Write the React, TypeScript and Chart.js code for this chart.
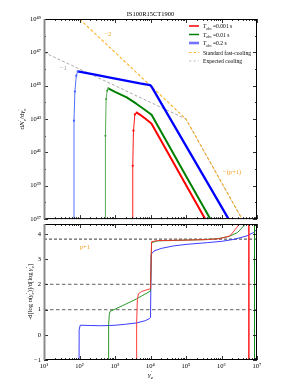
import React, { useEffect, useRef } from "react";
import { Chart, registerables } from "chart.js";
Chart.register(...registerables);

const SERIF = "'Liberation Serif', 'DejaVu Serif', serif";

const TITLE = "IS100R15CT1900";
const X_TICK_EXP = [1, 2, 3, 4, 5, 6, 7];
const TOP_Y_TICK_EXP = [37, 39, 41, 43, 45, 47, 49];
const TOP_Y_DECADES = [38, 40, 42, 44, 46, 48];
const BOTTOM_Y_TICKS = [-1, 0, 1, 2, 3, 4];
const LEGEND_T_VALUES = ["0.001", "0.01", "0.2"];
const LEGEND_OTHER = ["Standard fast-cooling", "Expected cooling"];

// ---- top panel: log10(gamma'_e) and log10(dN/dgamma) ----
const RED_RISE_LG = [3.49, 3.5, 3.52, 3.56, 3.61];
const RED_RISE_LN = [34, 40.2, 42.3, 43.28, 43.38];
const RED_LG = [3.61, 3.7, 3.85, 4.0, 4.03, 5.0, 5.5, 6.0];
const RED_LN = [43.38, 43.27, 43.03, 42.78, 42.72, 39.05, 37.16, 35.27];

const GREEN_RISE_LG = [2.72, 2.73, 2.75, 2.78, 2.81];
const GREEN_RISE_LN = [34, 42.0, 44.2, 44.7, 44.84];
const GREEN_LG = [2.81, 3.0, 3.33, 3.6, 3.8, 4.0, 4.03, 5.0, 5.7, 6.0];
const GREEN_LN = [44.84, 44.63, 44.3, 43.92, 43.62, 43.3, 43.26, 39.59, 36.95, 35.8];

const BLUE_RISE_LG = [1.835, 1.845, 1.87, 1.91, 1.95];
const BLUE_RISE_LN = [34, 42.9, 44.65, 45.6, 45.86];
const BLUE_LG = [1.95, 2.4, 2.86, 3.3, 3.7, 3.99, 4.03, 4.5, 5.0, 5.5, 6.0, 6.5];
const BLUE_LN = [45.86, 45.68, 45.49, 45.31, 45.14, 45.04, 44.94, 43.22, 41.39, 39.56, 37.73, 35.9];

const FAST_LG = [1.8, 5.0, 7.0];
const FAST_LN = [49.4, 43.0, 35.4];
const EXPECTED_LG = [1.0, 5.0, 7.0];
const EXPECTED_LN = [47.0, 43.0, 35.4];

// ---- bottom panel: log10(gamma'_e) and local slope ----
const RED_S_LG = [3.605, 3.61, 3.63, 3.66, 3.75, 3.9, 4.0, 4.03, 4.2, 5.0, 5.6, 5.96, 6.24, 6.43, 6.52, 6.6, 6.77, 6.77];
const RED_S = [-3, 0.5, 1.4, 1.63, 1.72, 1.79, 1.83, 3.7, 3.74, 3.76, 3.78, 3.82, 3.93, 4.26, 4.45, 5.5, 9, -3];
const GREEN_S_LG = [2.815, 2.82, 2.84, 2.86, 3.2, 3.6, 4.0, 4.03, 4.2, 5.0, 5.5, 5.9, 6.2, 6.45, 6.6, 6.71, 6.8, 6.93, 6.93];
const GREEN_S = [-3, 0.4, 0.8, 0.93, 1.15, 1.42, 1.74, 3.66, 3.73, 3.76, 3.78, 3.82, 3.9, 4.06, 4.28, 4.45, 5.5, 9, -3];
const BLUE_S_LG = [1.985, 1.99, 2.02, 2.3, 2.6, 3.0, 3.3, 3.6, 3.85, 3.98, 4.0, 4.02, 4.1, 4.3, 4.65, 5.0, 5.6, 6.0, 6.35, 6.72, 6.9, 7.0];
const BLUE_S = [-3, 0.2, 0.38, 0.37, 0.36, 0.38, 0.42, 0.47, 0.56, 0.65, 0.68, 3.2, 3.33, 3.43, 3.53, 3.59, 3.66, 3.71, 3.79, 3.93, 4.06, 4.19];

const REF_LEVELS = [1, 2];
const P_PLUS_1 = 3.8;

const SUPS: Record<string, string> = { "0": "⁰", "1": "¹", "2": "²", "3": "³", "4": "⁴", "5": "⁵", "6": "⁶", "7": "⁷", "8": "⁸", "9": "⁹" };
const supNum = (n: number) => String(n).split("").map((c) => SUPS[c] || c).join("");
const decadeLabel = (v: any) => "10" + supNum(Math.round(Math.log10(Number(v))));

const logPts = (lg: number[], ln: number[]) => lg.map((g, i) => ({ x: Math.pow(10, g), y: Math.pow(10, ln[i]) }));
const slopePts = (lg: number[], s: number[]) => lg.map((g, i) => ({ x: Math.pow(10, g), y: s[i] }));

type Seg = { t: string; it?: boolean; sub?: string; sup?: string };
const fnt = (size: number, it?: boolean) => `${it ? "italic " : ""}${size}px ${SERIF}`;

function drawRich(ctx: CanvasRenderingContext2D, segs: Seg[], x: number, y: number, size: number, color: string, align: "left" | "center") {
  const small = size * 0.7;
  const widths = segs.map((s) => {
    ctx.font = fnt(size, s.it);
    const w = ctx.measureText(s.t).width;
    ctx.font = fnt(small, s.it);
    let extra = 0;
    if (s.sub) extra = Math.max(extra, ctx.measureText(s.sub).width);
    if (s.sup) extra = Math.max(extra, ctx.measureText(s.sup).width);
    return w + extra;
  });
  const total = widths.reduce((a, b) => a + b, 0);
  let cx = align === "center" ? x - total / 2 : x;
  ctx.fillStyle = color;
  ctx.textAlign = "left";
  ctx.textBaseline = "alphabetic";
  segs.forEach((s, i) => {
    ctx.font = fnt(size, s.it);
    ctx.fillText(s.t, cx, y);
    const w = ctx.measureText(s.t).width;
    ctx.font = fnt(small, s.it);
    if (s.sub) ctx.fillText(s.sub, cx + w, y + size * 0.28);
    if (s.sup) ctx.fillText(s.sup, cx + w, y - size * 0.42);
    cx += widths[i];
  });
}

function drawFrame(chart: any, yMajor: number[], yMinor: number[]) {
  const { ctx, chartArea, scales } = chart;
  const { left, right, top, bottom } = chartArea;
  const x = scales.x;
  const y = scales.y;
  ctx.save();
  ctx.strokeStyle = "#000";
  ctx.lineWidth = 0.8;
  const seg = (x1: number, y1: number, x2: number, y2: number) => {
    ctx.beginPath();
    ctx.moveTo(x1, y1);
    ctx.lineTo(x2, y2);
    ctx.stroke();
  };
  X_TICK_EXP.forEach((e) => {
    for (let m = 1; m < 10; m++) {
      const v = m * Math.pow(10, e);
      if (v > 1e7 * 1.001) break;
      const px = Math.round(x.getPixelForValue(v)) + 0.5;
      const len = m === 1 ? 4 : 2;
      seg(px, bottom, px, bottom - len);
      seg(px, top, px, top + len);
    }
  });
  yMajor.forEach((v) => {
    const py = Math.round(y.getPixelForValue(v)) + 0.5;
    seg(left, py, left + 4, py);
    seg(right, py, right - 4, py);
  });
  yMinor.forEach((v) => {
    const py = Math.round(y.getPixelForValue(v)) + 0.5;
    seg(left, py, left + 2, py);
    seg(right, py, right - 2, py);
  });
  ctx.lineWidth = 1;
  ctx.strokeStyle = "#000";
  seg(left, top + 0.5, right, top + 0.5);
  seg(left, bottom - 0.5, right, bottom - 0.5);
  seg(right - 0.5, top, right - 0.5, bottom);
  ctx.strokeStyle = "#8a8a8a";
  ctx.lineWidth = 2;
  seg(left + 0.5, top, left + 0.5, bottom);
  ctx.restore();
}

const topPlugin = {
  id: "topDecor",
  afterDraw(chart: any) {
    const { ctx, chartArea, scales } = chart;
    drawFrame(chart, TOP_Y_TICK_EXP.map((e) => Math.pow(10, e)), TOP_Y_DECADES.map((e) => Math.pow(10, e)));
    ctx.save();
    // title
    ctx.font = `6.5px ${SERIF}`;
    ctx.fillStyle = "#000";
    ctx.textAlign = "center";
    ctx.textBaseline = "middle";
    ctx.fillText(TITLE, (chartArea.left + chartArea.right) / 2, 14);
    // slope labels
    const px = (lg: number) => scales.x.getPixelForValue(Math.pow(10, lg));
    const py = (ln: number) => scales.y.getPixelForValue(Math.pow(10, ln));
    ctx.font = `6.5px ${SERIF}`;
    ctx.fillStyle = "#f0a020";
    ctx.fillText("−2", px(2.8), py(48.06));
    ctx.fillStyle = "#999";
    ctx.fillText("−1", px(1.54), py(46.07));
    ctx.fillStyle = "#f0a020";
    ctx.fillText("−(p+1)", px(6.3), py(39.8));
    // y title
    ctx.save();
    ctx.translate(22, (chartArea.top + chartArea.bottom) / 2);
    ctx.rotate(-Math.PI / 2);
    drawRich(ctx, [{ t: "d" }, { t: "N", it: true, sup: "′", sub: "e" }, { t: "/d" }, { t: "γ", it: true, sup: "′", sub: "e" }], 0, 2.3, 7, "#000", "center");
    ctx.restore();
    // legend
    const rows = [26, 34.5, 43, 52.5, 61];
    const lx1 = 189, lx2 = 199, tx = 203;
    const styles = [
      { c: "#ff0000", w: 1.5, d: [] as number[] },
      { c: "#008000", w: 1.5, d: [] as number[] },
      { c: "rgba(40,40,255,0.65)", w: 2.6, d: [] as number[] },
      { c: "#ffb030", w: 1.2, d: [2.5, 2] },
      { c: "#c8c8c8", w: 1.2, d: [2.5, 2] },
    ];
    styles.forEach((s, i) => {
      ctx.save();
      ctx.strokeStyle = s.c;
      ctx.lineWidth = s.w;
      ctx.setLineDash(s.d);
      ctx.beginPath();
      ctx.moveTo(lx1, rows[i]);
      ctx.lineTo(lx2, rows[i]);
      ctx.stroke();
      ctx.restore();
    });
    LEGEND_T_VALUES.forEach((v, i) => {
      drawRich(ctx, [{ t: "T", it: true, sub: "obs" }, { t: " =" + v + " s" }], tx, rows[i] + 2, 5.6, "#000", "left");
    });
    LEGEND_OTHER.forEach((t, i) => {
      drawRich(ctx, [{ t }], tx, rows[3 + i] + 2, 5.6, "#000", "left");
    });
    ctx.restore();
  },
};

const bottomPlugin = {
  id: "bottomDecor",
  afterDraw(chart: any) {
    const { ctx, chartArea, scales } = chart;
    drawFrame(chart, BOTTOM_Y_TICKS, []);
    ctx.save();
    ctx.font = `6.5px ${SERIF}`;
    ctx.fillStyle = "#f0a020";
    ctx.textAlign = "center";
    ctx.textBaseline = "middle";
    ctx.fillText("p+1", scales.x.getPixelForValue(Math.pow(10, 2.15)), scales.y.getPixelForValue(3.47));
    // y title
    ctx.save();
    ctx.translate(30, (chartArea.top + chartArea.bottom) / 2);
    ctx.rotate(-Math.PI / 2);
    drawRich(
      ctx,
      [
        { t: "-d[log " },
        { t: "n", it: true },
        { t: "(" },
        { t: "γ", it: true, sup: "′", sub: "e" },
        { t: ")]/d[log " },
        { t: "γ", it: true, sup: "′", sub: "e" },
        { t: "]" },
      ],
      0,
      2.2,
      6.5,
      "#000",
      "center"
    );
    ctx.restore();
    // x title
    drawRich(ctx, [{ t: "γ", it: true, sup: "′", sub: "e" }], (chartArea.left + chartArea.right) / 2, chartArea.bottom + 17, 7, "#000", "center");
    ctx.restore();
  },
};

const tickFont = { family: SERIF, size: 6.5 };

export default function App() {
  const topRef = useRef<HTMLCanvasElement>(null);
  const botRef = useRef<HTMLCanvasElement>(null);

  useEffect(() => {
    const thin = (color: string, lg: number[], ln: number[]) => ({
      data: logPts(lg, ln),
      borderColor: color,
      backgroundColor: color,
      borderWidth: 0.9,
      pointRadius: 1.1,
      pointBorderWidth: 0,
      pointBackgroundColor: color,
    });
    const thick = (color: string, lg: number[], ln: number[], w: number) => ({
      data: logPts(lg, ln),
      borderColor: color,
      borderWidth: w,
      pointRadius: 0,
      borderJoinStyle: "round" as const,
    });
    const topChart = new Chart(topRef.current!, {
      type: "line",
      data: {
        datasets: [
          thin("#ff0000", RED_RISE_LG, RED_RISE_LN),
          thick("#ff0000", RED_LG, RED_LN, 2),
          thin("#4aa04a", GREEN_RISE_LG, GREEN_RISE_LN),
          thick("#008000", GREEN_LG, GREEN_LN, 2),
          thin("#4060ff", BLUE_RISE_LG, BLUE_RISE_LN),
          thick("#0000ff", BLUE_LG, BLUE_LN, 2.3),
          {
            data: logPts(FAST_LG, FAST_LN),
            borderColor: "rgba(255,165,0,0.85)",
            borderWidth: 1.1,
            borderDash: [3, 2],
            pointRadius: 0,
          },
          {
            data: logPts(EXPECTED_LG, EXPECTED_LN),
            borderColor: "rgba(150,150,150,0.8)",
            borderWidth: 1,
            borderDash: [3, 2],
            pointRadius: 0,
          },
        ],
      },
      options: {
        animation: false,
        responsive: false,
        maintainAspectRatio: false,
        events: [],
        layout: { padding: { left: 0, right: 37, top: 19, bottom: 2 } },
        plugins: { legend: { display: false }, tooltip: { enabled: false }, title: { display: false } },
        scales: {
          x: { type: "logarithmic", min: 10, max: 1e7, display: false },
          y: {
            type: "logarithmic",
            min: 1e37,
            max: 1e49,
            grid: { display: false, drawTicks: false },
            border: { display: false },
            afterBuildTicks: (s: any) => {
              s.ticks = TOP_Y_TICK_EXP.map((e) => ({ value: Math.pow(10, e) }));
            },
            afterFit: (s: any) => {
              s.width = 44;
            },
            ticks: { padding: 3, color: "#000", font: tickFont, autoSkip: false, callback: decadeLabel },
          },
        },
      },
      plugins: [topPlugin],
    } as any);

    const slopeDs = (color: string, lg: number[], s: number[]) => ({
      data: slopePts(lg, s),
      borderColor: color,
      borderWidth: 1,
      pointRadius: 0,
    });
    const refDs = (level: number, color: string, w: number, dash: number[]) => ({
      data: [
        { x: 10, y: level },
        { x: 1e7, y: level },
      ],
      borderColor: color,
      borderWidth: w,
      borderDash: dash,
      pointRadius: 0,
    });
    const botChart = new Chart(botRef.current!, {
      type: "line",
      data: {
        datasets: [
          slopeDs("rgba(255,40,40,0.9)", RED_S_LG, RED_S),
          slopeDs("rgba(20,140,20,0.9)", GREEN_S_LG, GREEN_S),
          slopeDs("rgba(40,40,255,0.9)", BLUE_S_LG, BLUE_S),
          refDs(P_PLUS_1, "#222", 0.9, [3, 2]),
          ...REF_LEVELS.map((l) => refDs(l, "#808080", 1.2, [3.5, 2.5])),
        ],
      },
      options: {
        animation: false,
        responsive: false,
        maintainAspectRatio: false,
        events: [],
        layout: { padding: { left: 0, right: 37, top: 10, bottom: 0 } },
        plugins: { legend: { display: false }, tooltip: { enabled: false }, title: { display: false } },
        scales: {
          x: {
            type: "logarithmic",
            min: 10,
            max: 1e7,
            grid: { display: false, drawTicks: false },
            border: { display: false },
            afterBuildTicks: (s: any) => {
              s.ticks = X_TICK_EXP.map((e) => ({ value: Math.pow(10, e) }));
            },
            afterFit: (s: any) => {
              s.height = 32;
            },
            ticks: { padding: 2, color: "#000", font: tickFont, autoSkip: false, maxRotation: 0, callback: decadeLabel },
          },
          y: {
            type: "linear",
            min: -1,
            max: 4.4,
            grid: { display: false, drawTicks: false },
            border: { display: false },
            afterBuildTicks: (s: any) => {
              s.ticks = BOTTOM_Y_TICKS.map((v) => ({ value: v }));
            },
            afterFit: (s: any) => {
              s.width = 44;
            },
            ticks: {
              padding: 3,
              color: "#000",
              font: tickFont,
              autoSkip: false,
              callback: (v: any) => (Number(v) < 0 ? "−" + Math.abs(Number(v)) : String(v)),
            },
          },
        },
      },
      plugins: [bottomPlugin],
    } as any);

    return () => {
      topChart.destroy();
      botChart.destroy();
    };
  }, []);

  return (
    <div style={{ position: "fixed", left: 0, top: 0, width: 294, height: 392, background: "#fff", overflow: "hidden" }}>
      <canvas ref={topRef} width={294} height={226} style={{ position: "absolute", left: 0, top: 0, width: 294, height: 226 }} />
      <canvas ref={botRef} width={294} height={178} style={{ position: "absolute", left: 0, top: 214, width: 294, height: 178 }} />
    </div>
  );
}
